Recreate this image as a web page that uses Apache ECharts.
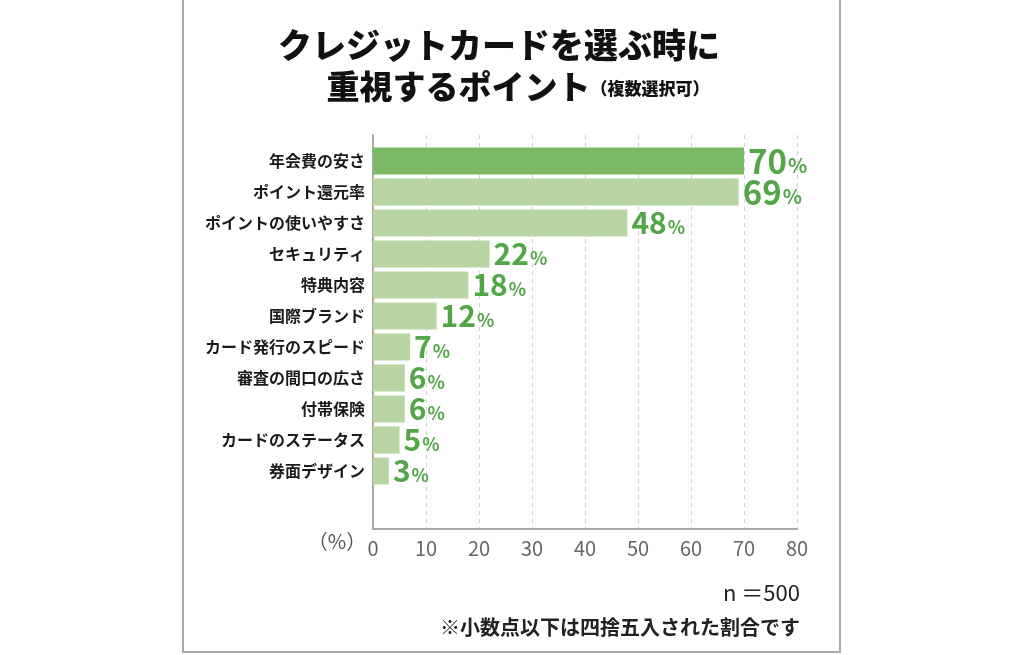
<!DOCTYPE html>
<html lang="ja">
<head>
<meta charset="utf-8">
<title>クレジットカードを選ぶ時に重視するポイント</title>
<script src="https://cdn.jsdelivr.net/npm/echarts@6/dist/echarts.min.js"></script>
<style>
    html, body { margin: 0; padding: 0; background: #fff; }
    #grafico { width: 1024px; height: 655px; }
</style>
</head>
<body>
<div id="grafico"></div>
<script>
// Datos
const categorias = ['年会費の安さ', 'ポイント還元率', 'ポイントの使いやすさ', 'セキュリティ', '特典内容', '国際ブランド', 'カード発行のスピード', '審査の間口の広さ', '付帯保険', 'カードのステータス', '券面デザイン'];
const porcentajes = [70, 69, 48, 22, 18, 12, 7, 6, 6, 5, 3];
const ejeMin = 0;
const ejeMax = 80;
const ejeIntervalo = 10;

const fuente = '"Noto Sans CJK JP", "Noto Sans", sans-serif';
const verdeOscuro = '#7cb965';
const verdeClaro = '#b8d6a3';
const verdeTexto = '#52a647';

const chartDom = document.getElementById('grafico');
const myChart = echarts.init(chartDom);

// El primer elemento va en verde oscuro
const datosBarras = porcentajes.map((valor, i) => ({
    value: valor,
    itemStyle: { color: i === 0 ? verdeOscuro : verdeClaro },
    label: { formatter: i < 2 ? '{numG|{c}}{pctG|%}' : '{num|{c}}{pct|%}' }
}));

const option = {
    animation: false,
    textStyle: { fontFamily: fuente },
    graphic: [
        {
            type: 'rect',
            shape: { x: 183, y: -5, width: 657, height: 657 },
            style: { fill: 'none', stroke: '#a9a9a9', lineWidth: 2 }
        },
        {
            type: 'text',
            x: 499, y: 45,
            style: {
                text: 'クレジットカードを選ぶ時に',
                font: '900 34px ' + fuente,
                fill: '#111',
                align: 'center',
                verticalAlign: 'middle'
            }
        },
        {
            type: 'text',
            x: 518, y: 86,
            style: {
                text: '{t|重視するポイント}{s|（複数選択可）}',
                align: 'center',
                verticalAlign: 'middle',
                rich: {
                    t: { font: '900 33px ' + fuente, fill: '#111' },
                    s: { font: '900 17px ' + fuente, fill: '#111', padding: [6, 0, 0, 0] }
                }
            }
        },
        {
            type: 'text',
            x: 337, y: 541,
            style: {
                text: '（%）',
                font: '20px ' + fuente,
                fill: '#555',
                align: 'center',
                verticalAlign: 'middle'
            }
        },
        {
            type: 'text',
            x: 800, y: 593,
            style: {
                text: 'n ＝500',
                font: '22px ' + fuente,
                fill: '#222',
                align: 'right',
                verticalAlign: 'middle'
            }
        },
        {
            type: 'text',
            x: 800, y: 627,
            style: {
                text: '※小数点以下は四捨五入された割合です',
                font: 'bold 20px ' + fuente,
                fill: '#222',
                align: 'right',
                verticalAlign: 'middle'
            }
        }
    ],
    grid: [
        // Marco con el eje y las líneas guía
        { left: 373, width: 424, top: 135, height: 394 },
        // Barras
        { left: 373, width: 424, top: 145.5, height: 341 }
    ],
    xAxis: [
        {
            gridIndex: 0,
            type: 'value',
            min: ejeMin,
            max: ejeMax,
            interval: ejeIntervalo,
            axisLine: { show: true, lineStyle: { color: '#aaa', width: 2 } },
            axisTick: { show: false },
            axisLabel: { color: '#666', fontSize: 20, margin: 9, fontFamily: fuente },
            splitLine: { show: true, lineStyle: { type: [4, 4], color: '#d2d2d2', width: 1 } }
        },
        {
            gridIndex: 1,
            type: 'value',
            min: ejeMin,
            max: ejeMax,
            show: false
        }
    ],
    yAxis: [
        {
            gridIndex: 0,
            type: 'value',
            min: 0,
            max: 1,
            axisLine: { show: true, lineStyle: { color: '#aaa', width: 2 } },
            axisTick: { show: false },
            axisLabel: { show: false },
            splitLine: { show: false }
        },
        {
            gridIndex: 1,
            type: 'category',
            inverse: true,
            data: categorias,
            axisLine: { show: false },
            axisTick: { show: false },
            axisLabel: { color: '#1a1a1a', fontSize: 16, fontWeight: 'bold', margin: 8, fontFamily: fuente }
        }
    ],
    series: [
        {
            type: 'scatter',
            xAxisIndex: 0,
            yAxisIndex: 0,
            data: []
        },
        {
            type: 'bar',
            xAxisIndex: 1,
            yAxisIndex: 1,
            barWidth: 27,
            data: datosBarras,
            label: {
                show: true,
                position: 'right',
                distance: 4,
                rich: {
                    num: { fontSize: 30, fontWeight: 'bold', color: verdeTexto, fontFamily: fuente },
                    pct: { fontSize: 18, fontWeight: 'bold', color: verdeTexto, fontFamily: fuente, padding: [8, 0, 0, 1] },
                    numG: { fontSize: 33, fontWeight: 'bold', color: verdeTexto, fontFamily: fuente },
                    pctG: { fontSize: 20, fontWeight: 'bold', color: verdeTexto, fontFamily: fuente, padding: [9, 0, 0, 1] }
                }
            }
        }
    ]
};

myChart.setOption(option);
</script>
</body>
</html>
